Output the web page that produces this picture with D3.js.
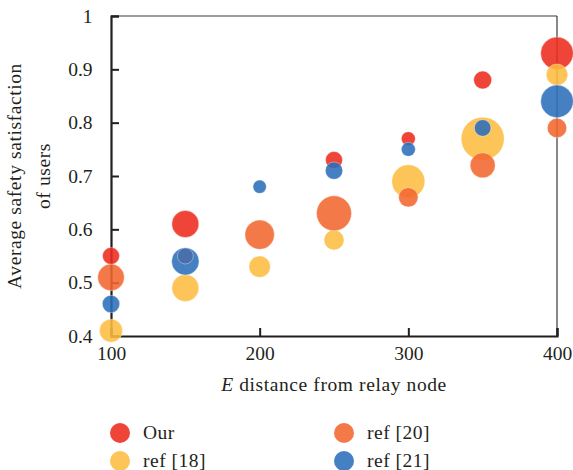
<!DOCTYPE html>
<html>
<head>
<meta charset="utf-8">
<script src="https://cdn.jsdelivr.net/npm/d3@7"></script>
<style>
  body { margin: 0; background: #fff; }
  svg text { font-family: 'Liberation Serif', 'DejaVu Serif', serif; fill: #231f20; }
</style>
</head>
<body>
<svg id="chart" width="573" height="470"></svg>
<script>
// distances on the x axis
var distances = [100, 150, 200, 250, 300, 350, 400];

// average safety satisfaction per method (null = no bubble at that distance)
var ourValues   = [0.55, 0.61, null, 0.73, 0.77, 0.88, 0.93];
var ref18Values = [0.41, 0.49, 0.53, 0.58, 0.69, 0.77, 0.89];
var ref20Values = [0.51, null, 0.59, 0.63, 0.66, 0.72, 0.79];
var ref21Values = [0.46, 0.54, 0.68, 0.71, 0.75, 0.79, 0.84];

// bubble sizes (relative weight)
var ourSizes   = [8.5, 13.5, null, 8.5, 7, 9, 16.3];
var ref18Sizes = [11.5, 13.5, 10.7, 10, 16.5, 21.5, 10.7];
var ref20Sizes = [13.3, null, 14.7, 17.5, 9.7, 12.5, 9.7];
var ref21Sizes = [8.7, 13.7, 6.7, 8.7, 7, 8.3, 16.3];

// small shaded bubble hidden inside ref [21] at 150
var overlapX = [150];
var overlapValues = [0.55];
var overlapSizes = [8];

var seriesNames = ['Our', 'ref [18]', 'ref [20]', 'ref [21]'];
var yTicks = [0.4, 0.5, 0.6, 0.7, 0.8, 0.9, 1];
var xTicks = [100, 200, 300, 400];

var colors = ['#ed2b1e', '#fdbc40', '#f3672f', '#2b6ebb'];

var svg = d3.select('#chart');
var padding = {t: 16, r: 16, b: 134, l: 111};
var width = 573, height = 470;
var fontSize = '19.5px';

var x = d3.scaleLinear().domain([100, 400]).range([padding.l, width - padding.r]);
var y = d3.scaleLinear().domain([0.4, 1]).range([height - padding.b, padding.t]);
var r = d3.scaleLinear().domain([0, 1]).range([0, 1]);

var series = [
  {values: ourValues, sizes: ourSizes},
  {values: ref18Values, sizes: ref18Sizes},
  {values: ref20Values, sizes: ref20Sizes},
  {values: ref21Values, sizes: ref21Sizes}
];

// frame: top and right thin
svg.append('line')
  .attr('x1', x(100)).attr('x2', x(400))
  .attr('y1', y(1)).attr('y2', y(1))
  .attr('stroke', '#3a3a3a').attr('stroke-width', 1.2);
svg.append('line')
  .attr('x1', x(400)).attr('x2', x(400))
  .attr('y1', y(1)).attr('y2', y(0.4))
  .attr('stroke', '#3a3a3a').attr('stroke-width', 1.2);

// axes
var yAxis = d3.axisLeft(y).tickValues(yTicks).tickSize(-8).tickPadding(18.5)
  .tickFormat(function(d) { return d === 1 ? '1' : d.toFixed(1); });
var xAxis = d3.axisBottom(x).tickValues(xTicks).tickSize(-8).tickPadding(0)
  .tickFormat(d3.format('d'));

var yG = svg.append('g').attr('transform', `translate(${padding.l},0)`).call(yAxis);
var xG = svg.append('g').attr('transform', `translate(0,${height - padding.b})`).call(xAxis);

[yG, xG].forEach(function(g) {
  g.select('.domain').attr('stroke', '#231f20').attr('stroke-width', 2.2);
  g.selectAll('.tick line').attr('stroke', '#231f20').attr('stroke-width', 2);
  g.selectAll('.tick text').style('font-size', fontSize).attr('fill', '#231f20');
});
xG.selectAll('.tick text').attr('y', 24).attr('dy', 0);

// bubbles
var dotG = svg.append('g');
series.forEach(function(s, si) {
  var pts = distances.map(function(d, i) {
    return {x: d, v: s.values[i], size: s.sizes[i]};
  }).filter(function(p) { return p.v !== null; });

  dotG.selectAll('.dot-' + si)
    .data(pts)
    .enter()
    .append('circle')
    .attr('class', 'dot-' + si)
    .attr('cx', function(d) { return x(d.x); })
    .attr('cy', function(d) { return y(d.v); })
    .attr('r', function(d) { return r(d.size); })
    .attr('fill', colors[si])
    .attr('fill-opacity', 0.88)
    .attr('stroke', '#fff')
    .attr('stroke-opacity', 0.45)
    .attr('stroke-width', 0.8);
});

dotG.selectAll('.overlap')
  .data(overlapX.map(function(d, i) { return {x: d, v: overlapValues[i], size: overlapSizes[i]}; }))
  .enter()
  .append('circle')
  .attr('class', 'overlap')
  .attr('cx', function(d) { return x(d.x); })
  .attr('cy', function(d) { return y(d.v); })
  .attr('r', function(d) { return r(d.size); })
  .attr('fill', '#4a6aa6')
  .attr('fill-opacity', 0.8)
  .attr('stroke', '#fff')
  .attr('stroke-opacity', 0.45)
  .attr('stroke-width', 0.8);

// axis titles
var yMid = (y(0.4) + y(1)) / 2;
svg.append('text')
  .attr('transform', `translate(21, ${yMid}) rotate(-90)`)
  .style('text-anchor', 'middle')
  .style('font-size', fontSize)
  .style('letter-spacing', '0.6px')
  .text('Average safety satisfaction');
svg.append('text')
  .attr('transform', `translate(50, ${yMid}) rotate(-90)`)
  .style('text-anchor', 'middle')
  .style('font-size', fontSize)
  .style('letter-spacing', '0.6px')
  .text('of users');

var xTitle = svg.append('text')
  .attr('x', (x(100) + x(400)) / 2)
  .attr('y', 391)
  .style('text-anchor', 'middle')
  .style('font-size', fontSize)
  .style('letter-spacing', '0.6px');
xTitle.append('tspan').style('font-style', 'italic').text('E');
xTitle.append('tspan').text(' distance from relay node');

// legend
var legendPos = [[120, 433], [120, 461], [344, 433], [344, 461]];
var legend = svg.selectAll('.legend')
  .data(seriesNames)
  .enter()
  .append('g')
  .attr('class', 'legend')
  .attr('transform', function(d, i) { return `translate(${legendPos[i][0]},${legendPos[i][1]})`; });

legend.append('circle')
  .attr('r', 10)
  .attr('fill', function(d, i) { return colors[i]; })
  .attr('fill-opacity', 0.88);

legend.append('text')
  .attr('x', 23)
  .attr('y', 6)
  .style('font-size', fontSize)
  .style('letter-spacing', '0.5px')
  .text(function(d) { return d; });
</script>
</body>
</html>
